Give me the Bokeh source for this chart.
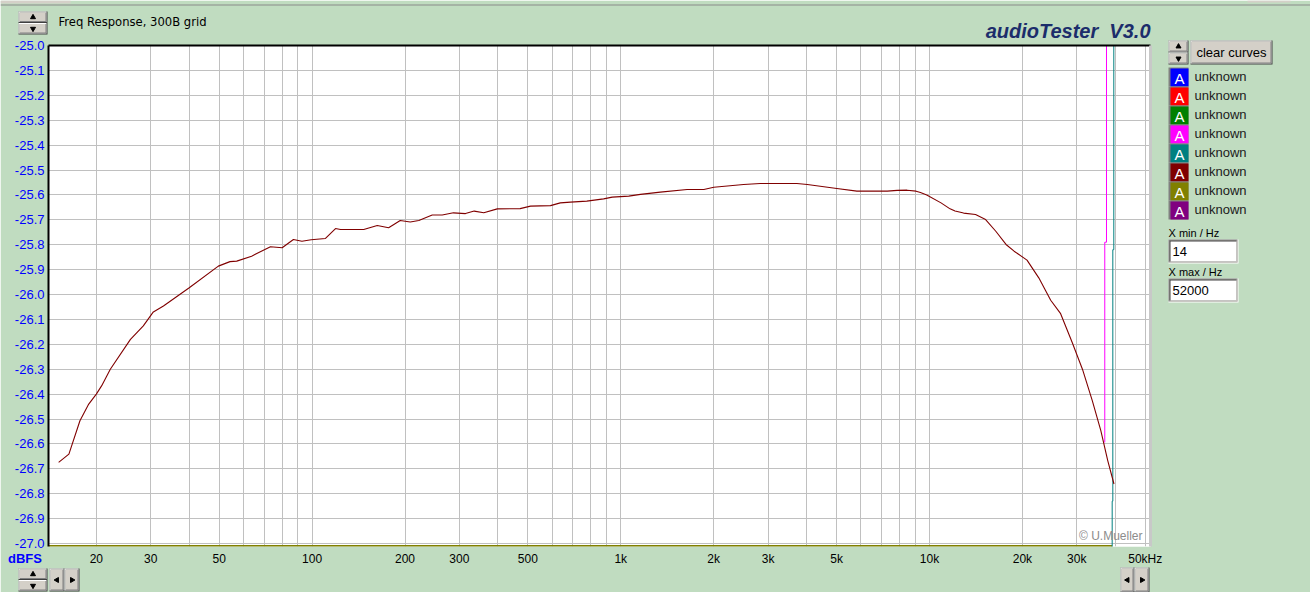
import math
from bokeh.plotting import figure
from bokeh.layouts import column
from bokeh.models import (FixedTicker, PrintfTickFormatter, LogAxis, LinearAxis,
                          Range1d, GridBox)
from bokeh.core.properties import value
from bokeh.embed import file_html
from bokeh.resources import INLINE

# ---------------- data ----------------
freq_hz = [15.1, 16.3, 17.7, 18.9, 20.0, 20.8, 22.2, 25.8, 28.4, 30.6, 33.0, 40.0,
           49.7, 54.2, 57.0, 63.7, 73.3, 80.0, 87.0, 92.7, 99.3, 110.5, 119.1, 123.6,
           147, 162.6, 177, 193, 208, 221.7, 245, 264, 287, 314, 335, 360, 398, 472,
           510, 592, 637, 687, 776, 880, 938, 1061, 1158, 1343, 1640, 1858, 2001,
           2500, 2830, 3016, 3720, 4020, 5010, 5820, 7300, 7860, 8460, 9050, 9350,
           9800, 10900, 11660, 12100, 12900, 14100, 15200, 16400, 17700, 18800,
           20700, 22600, 24700, 26600, 29000, 31300, 33700, 35900, 37800, 39600]
level_dbfs = [-26.674, -26.641, -26.507, -26.44, -26.40, -26.367, -26.30, -26.18,
              -26.126, -26.07, -26.046, -25.973, -25.886, -25.868, -25.866, -25.846,
              -25.808, -25.812, -25.779, -25.786, -25.78, -25.775, -25.735, -25.739,
              -25.739, -25.723, -25.732, -25.703, -25.709, -25.703, -25.681, -25.681,
              -25.672, -25.675, -25.665, -25.672, -25.656, -25.655, -25.645, -25.643,
              -25.632, -25.629, -25.625, -25.616, -25.609, -25.605, -25.598, -25.589,
              -25.578, -25.578, -25.569, -25.558, -25.554, -25.554, -25.554, -25.558,
              -25.574, -25.585, -25.585, -25.582, -25.581, -25.585, -25.590, -25.600,
              -25.632, -25.656, -25.665, -25.673, -25.679, -25.699, -25.746, -25.799,
              -25.826, -25.862, -25.933, -26.023, -26.077, -26.193, -26.30, -26.427,
              -26.547, -26.667, -26.761]

magenta_freq = [36970, 36970, 37450, 37450]
magenta_dbfs = [-26.594, -25.79, -25.79, -24.9]
teal_freq = [39070, 39070, 39260, 39260, 39550, 39550]
teal_dbfs = [-27.1, -26.83, -26.83, -25.82, -25.82, -24.9]
olive_freq = [14, 39070]
olive_dbfs = [-27.01, -27.01]

x_min_hz = 14
x_max_hz = 52000
y_min_db = -27.012
y_max_db = -25.0

x_tick_values = [20, 30, 40, 50, 60, 70, 80, 90,
                 100, 200, 300, 400, 500, 600, 700, 800, 900,
                 1000, 2000, 3000, 4000, 5000, 6000, 7000, 8000, 9000,
                 10000, 20000, 30000, 40000, 50000]
x_tick_labels = {20: "20", 30: "30", 50: "50", 100: "100", 200: "200", 300: "300",
                 500: "500", 1000: "1k", 2000: "2k", 3000: "3k", 5000: "5k",
                 10000: "10k", 20000: "20k", 30000: "30k", 50000: "50kHz"}
y_tick_values = [-27.0, -26.9, -26.8, -26.7, -26.6, -26.5, -26.4, -26.3, -26.2, -26.1,
                 -26.0, -25.9, -25.8, -25.7, -25.6, -25.5, -25.4, -25.3, -25.2, -25.1,
                 -25.0]

legend_colors = ["#0000FF", "#FF0000", "#008000", "#FF00FF",
                 "#008080", "#800000", "#808000", "#800080"]
legend_names = ["unknown"] * 8

title_text = "audioTester\u00a0\u00a0V3.0"
subtitle_text = "Freq Response, 300B grid"

# ---------------- layout constants (page pixels) ----------------
W, H = 1310, 592
FL, FT, FR, FB = 48, 45, 1150, 546
BG = "#C0DCC0"
BTN = "#D4D0C8"

# ---------------- main chart ----------------
p = figure(width=W, height=H, x_axis_type="log",
           x_range=(x_min_hz, x_max_hz), y_range=(y_min_db, y_max_db),
           output_backend="svg", toolbar_location=None)
p.min_border_left = FL
p.min_border_top = FT
p.min_border_right = W - FR
p.min_border_bottom = H - FB
p.background_fill_color = "white"
p.border_fill_color = BG
p.outline_line_color = None

xt = FixedTicker(ticks=x_tick_values, minor_ticks=[])
yt = FixedTicker(ticks=y_tick_values, minor_ticks=[])

xa = p.xaxis[0]
xa.ticker = xt
xa.major_label_overrides = {v: x_tick_labels.get(v, "") for v in x_tick_values}
xa.axis_line_color = None
xa.major_tick_line_color = None
xa.minor_tick_line_color = None
xa.major_tick_out = 0
xa.major_tick_in = 0
xa.major_label_standoff = 5
xa.major_label_text_font = "Liberation Sans"
xa.major_label_text_font_size = "12px"
xa.major_label_text_color = "black"

ya = p.yaxis[0]
ya.ticker = yt
ya.formatter = PrintfTickFormatter(format="%.1f")
ya.axis_line_color = "black"
ya.axis_line_width = 2
ya.major_tick_line_color = None
ya.minor_tick_line_color = None
ya.major_tick_out = 0
ya.major_tick_in = 0
ya.major_label_standoff = 4
ya.major_label_text_font = "Liberation Sans"
ya.major_label_text_font_size = "13px"
ya.major_label_text_color = "#0000FF"

p.xgrid.ticker = xt
p.ygrid.ticker = yt
p.xgrid.grid_line_color = "#C0C0C0"
p.ygrid.grid_line_color = "#C0C0C0"

top_axis = LogAxis(ticker=FixedTicker(ticks=[]), axis_line_color="black", axis_line_width=2,
                   major_tick_line_color=None, minor_tick_line_color=None,
                   major_tick_out=0, major_label_text_font_size="0px")
p.add_layout(top_axis, "above")
right_axis = LinearAxis(ticker=FixedTicker(ticks=[]), axis_line_color="#C8C8C8", axis_line_width=3,
                        major_tick_line_color=None, minor_tick_line_color=None,
                        major_tick_out=0, major_label_text_font_size="0px")
p.add_layout(right_axis, "right")

p.line(olive_freq, olive_dbfs, line_color="#808000", line_width=2)
p.line(magenta_freq, magenta_dbfs, line_color="#FF00FF", line_width=1)
p.line(teal_freq, teal_dbfs, line_color="#008080", line_width=1)
p.line(freq_hz, level_dbfs, line_color="#800000", line_width=1.1)

# ---------------- transparent overlay for the window furniture ----------------
ov = figure(width=W, height=H, x_range=Range1d(0, W), y_range=Range1d(H, 0),
            output_backend="svg", toolbar_location=None,
            x_axis_location=None, y_axis_location=None)
ov.min_border = 0
ov.min_border_left = 0
ov.min_border_right = 0
ov.min_border_top = 0
ov.min_border_bottom = 0
ov.outline_line_color = None
ov.background_fill_alpha = 0
ov.border_fill_alpha = 0
ov.grid.visible = False


def rect(X0, Y0, X1, Y1, color):
    ov.quad(left=[X0], right=[X1], top=[Y0], bottom=[Y1], fill_color=color, line_color=None)


def txt(X, Y, s, size=12, color="black", font="Liberation Sans", style="normal",
        align="left", baseline="middle"):
    ov.text(x=[X], y=[Y], text=[s], text_font=value(font), text_font_size=value(f"{size}px"),
            text_color=color, text_font_style=style, text_align=align, text_baseline=baseline)


def tri(X, Y, kind):
    ang = {"up": 0, "down": math.pi, "left": math.pi / 2, "right": -math.pi / 2}[kind]
    ov.scatter([X], [Y], marker="triangle", size=5, angle=ang, color="black")


def button(X0, Y0, X1, Y1):
    rect(X0, Y0, X1, Y1, "#404040")
    rect(X0, Y0, X1 - 1, Y1 - 1, "white")
    rect(X0 + 1, Y0 + 1, X1 - 1, Y1 - 1, "#808080")
    rect(X0 + 1, Y0 + 1, X1 - 2, Y1 - 2, BTN)


def sunken(X0, Y0, X1, Y1):
    rect(X0, Y0, X1, Y1, "white")
    rect(X0, Y0, X1 - 1, Y1 - 1, "#808080")
    rect(X0 + 1, Y0 + 1, X1 - 1, Y1 - 1, BTN)
    rect(X0 + 1, Y0 + 1, X1 - 2, Y1 - 2, "#404040")
    rect(X0 + 2, Y0 + 2, X1 - 2, Y1 - 2, "white")


def spin(X0, Y0, X1, Y1):
    mid = (Y0 + Y1) / 2
    button(X0, Y0, X1, mid)
    button(X0, mid, X1, Y1)
    tri((X0 + X1) / 2, (Y0 + mid) / 2, "up")
    tri((X0 + X1) / 2, (mid + Y1) / 2, "down")


# window top edge
rect(0, 0, 70, 3, BTN)
rect(0, 4, W, 5, "#8A8A8A")
rect(1247, 0, 1290, 2, BTN)

# top-left spin button and subtitle
spin(18, 11, 47, 34)
txt(58, 21, subtitle_text, size=11.6, font="DejaVu Sans")

# title
txt(1150, 30.5, title_text, size=20, color="#1C2D6B", style="bold italic",
    align="right", baseline="middle")

# right panel
spin(1168, 40, 1188, 64)
button(1190, 40, 1272, 64)
txt(1231, 52, "clear curves", size=13, align="center")
for i, (c, n) in enumerate(zip(legend_colors, legend_names)):
    yc = 77 + 19 * i
    rect(1168, yc - 10, 1188, yc + 9, "#808080")
    rect(1170, yc - 9, 1188, yc + 9, c)
    txt(1179, yc + 0.5, "A", size=15, color="white", align="center")
    txt(1194, yc - 1, n, size=13, color="#202020")

txt(1168, 232, "X min / Hz", size=11)
sunken(1168, 239, 1238, 263)
txt(1172, 251, str(x_min_hz), size=13)
txt(1168, 271, "X max / Hz", size=11)
sunken(1168, 278, 1238, 302)
txt(1172, 290, str(x_max_hz), size=13)

# axis unit text and copyright
txt(7.5, 558, "dBFS", size=13, color="#0000FF", style="bold")
txt(1142, 535.5, "© U.Mueller", size=12, color="#8C8C8C", align="right")

# bottom controls
spin(18, 568, 47, 591)
button(49, 568, 64, 591)
button(64, 568, 79, 591)
tri(56.5, 579.5, "left")
tri(71.5, 579.5, "right")
button(1120, 567, 1134, 592)
button(1134, 567, 1149, 592)
tri(1127, 579.5, "left")
tri(1141.5, 579.5, "right")

try:
    ov.frame_align = False
    p.frame_align = False
    layout = GridBox(children=[(p, 0, 0), (ov, 0, 0)])
except (AttributeError, ValueError):
    layout = GridBox(children=[(column(p), 0, 0), (column(ov), 0, 0)])

open("out.html", "w").write(file_html(layout, INLINE))
